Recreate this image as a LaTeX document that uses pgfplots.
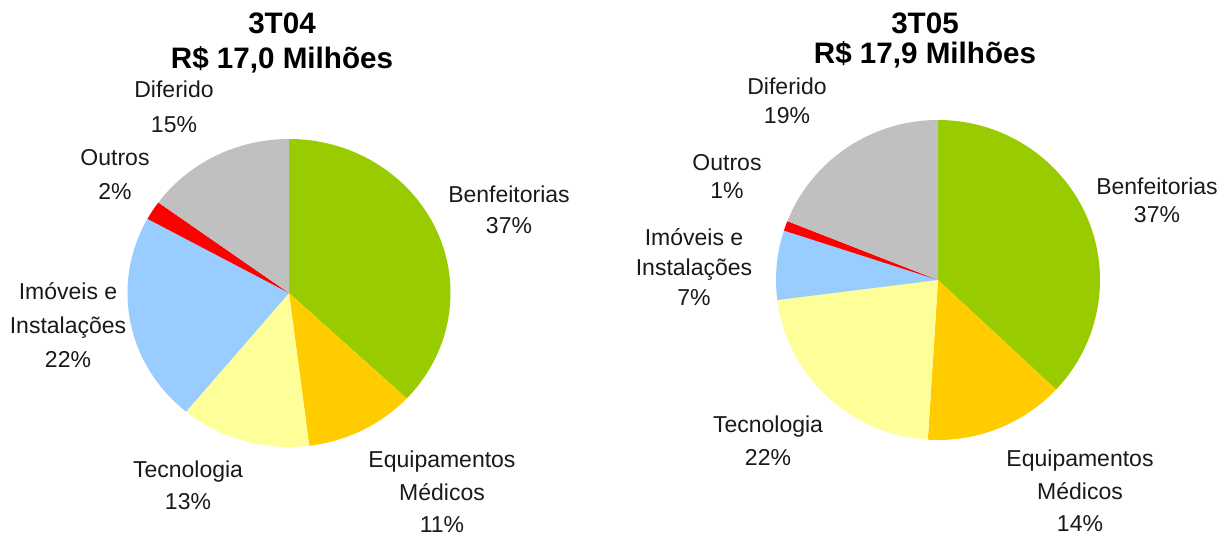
\documentclass[border=0pt]{standalone}
\usepackage{fontspec}
\setmainfont{Liberation Sans}
\usepackage{pgfplots}
\pgfplotsset{compat=1.18}

\definecolor{cbenf}{HTML}{99CC00}
\definecolor{cequip}{HTML}{FFCC00}
\definecolor{ctec}{HTML}{FFFF99}
\definecolor{cimo}{HTML}{99CCFF}
\definecolor{cout}{HTML}{FF0000}
\definecolor{cdif}{HTML}{C0C0C0}

% slice: center x, center y, x radius, y radius, from %, to %, colour (clockwise from 12 o'clock)
\newcommand{\slice}[7]{%
  \fill[#7] (axis cs:#1,#2) -- ++({90-3.6*#5}:#3 and #4)
    arc[start angle={90-3.6*#5}, end angle={90-3.6*#6}, x radius=#3, y radius=#4] -- cycle;}

\begin{document}
\begin{tikzpicture}[
    lbl/.style={anchor=base, inner sep=0pt, font=\fontsize{11.5}{13}\selectfont, text=black!90},
    ttl/.style={anchor=base, inner sep=0pt, font=\fontsize{14.8}{17}\selectfont\bfseries},
]
\path[use as bounding box] (0,0) rectangle (616pt,269pt);
\begin{axis}[
    at={(0,0)}, anchor=south west,
    scale only axis, width=616pt, height=269pt,
    xmin=0, xmax=1232, ymin=0, ymax=538,
    y dir=reverse,
    hide axis, clip=false,
]
% 3T04: Benfeitorias 37, Equipamentos 11, Tecnologia 13, Imoveis 22, Outros 2, Diferido 15
\slice{289}{293}{80.75pt}{77pt}{0}{37}{cbenf}
\slice{289}{293}{80.75pt}{77pt}{37}{48}{cequip}
\slice{289}{293}{80.75pt}{77pt}{48}{61}{ctec}
\slice{289}{293}{80.75pt}{77pt}{61}{83}{cimo}
\slice{289}{293}{80.75pt}{77pt}{83}{85}{cout}
\slice{289}{293}{80.75pt}{77pt}{85}{100}{cdif}

% 3T05: Benfeitorias 37, Equipamentos 14, Tecnologia 22, Imoveis 7, Outros 1, Diferido 19
\slice{938}{280}{81pt}{80pt}{0}{37}{cbenf}
\slice{938}{280}{81pt}{80pt}{37}{51}{cequip}
\slice{938}{280}{81pt}{80pt}{51}{73}{ctec}
\slice{938}{280}{81pt}{80pt}{73}{80}{cimo}
\slice{938}{280}{81pt}{80pt}{80}{81}{cout}
\slice{938}{280}{81pt}{80pt}{81}{100}{cdif}

% titles
\node[ttl] at (axis cs:282,33) {3T04};
\node[ttl] at (axis cs:282,68) {R\$ 17,0 Milhões};
\node[ttl] at (axis cs:925,33) {3T05};
\node[ttl] at (axis cs:925,63) {R\$ 17,9 Milhões};

% labels left
\node[lbl] at (axis cs:174,97) {Diferido};
\node[lbl] at (axis cs:174,132) {15\%};
\node[lbl] at (axis cs:115,165) {Outros};
\node[lbl] at (axis cs:115,199) {2\%};
\node[lbl] at (axis cs:509,202) {Benfeitorias};
\node[lbl] at (axis cs:509,233) {37\%};
\node[lbl] at (axis cs:68,299) {Imóveis e};
\node[lbl] at (axis cs:68,333) {Instalações};
\node[lbl] at (axis cs:68,367) {22\%};
\node[lbl] at (axis cs:188,477) {Tecnologia};
\node[lbl] at (axis cs:188,509) {13\%};
\node[lbl] at (axis cs:442,467) {Equipamentos};
\node[lbl] at (axis cs:442,500) {Médicos};
\node[lbl] at (axis cs:442,532) {11\%};

% labels right
\node[lbl] at (axis cs:787,94) {Diferido};
\node[lbl] at (axis cs:787,123) {19\%};
\node[lbl] at (axis cs:727,170) {Outros};
\node[lbl] at (axis cs:727,198) {1\%};
\node[lbl] at (axis cs:694,245) {Imóveis e};
\node[lbl] at (axis cs:694,275) {Instalações};
\node[lbl] at (axis cs:694,305) {7\%};
\node[lbl] at (axis cs:1157,194) {Benfeitorias};
\node[lbl] at (axis cs:1157,222) {37\%};
\node[lbl] at (axis cs:768,432) {Tecnologia};
\node[lbl] at (axis cs:768,465) {22\%};
\node[lbl] at (axis cs:1080,466) {Equipamentos};
\node[lbl] at (axis cs:1080,499) {Médicos};
\node[lbl] at (axis cs:1080,531) {14\%};
\end{axis}
\end{tikzpicture}
\end{document}
